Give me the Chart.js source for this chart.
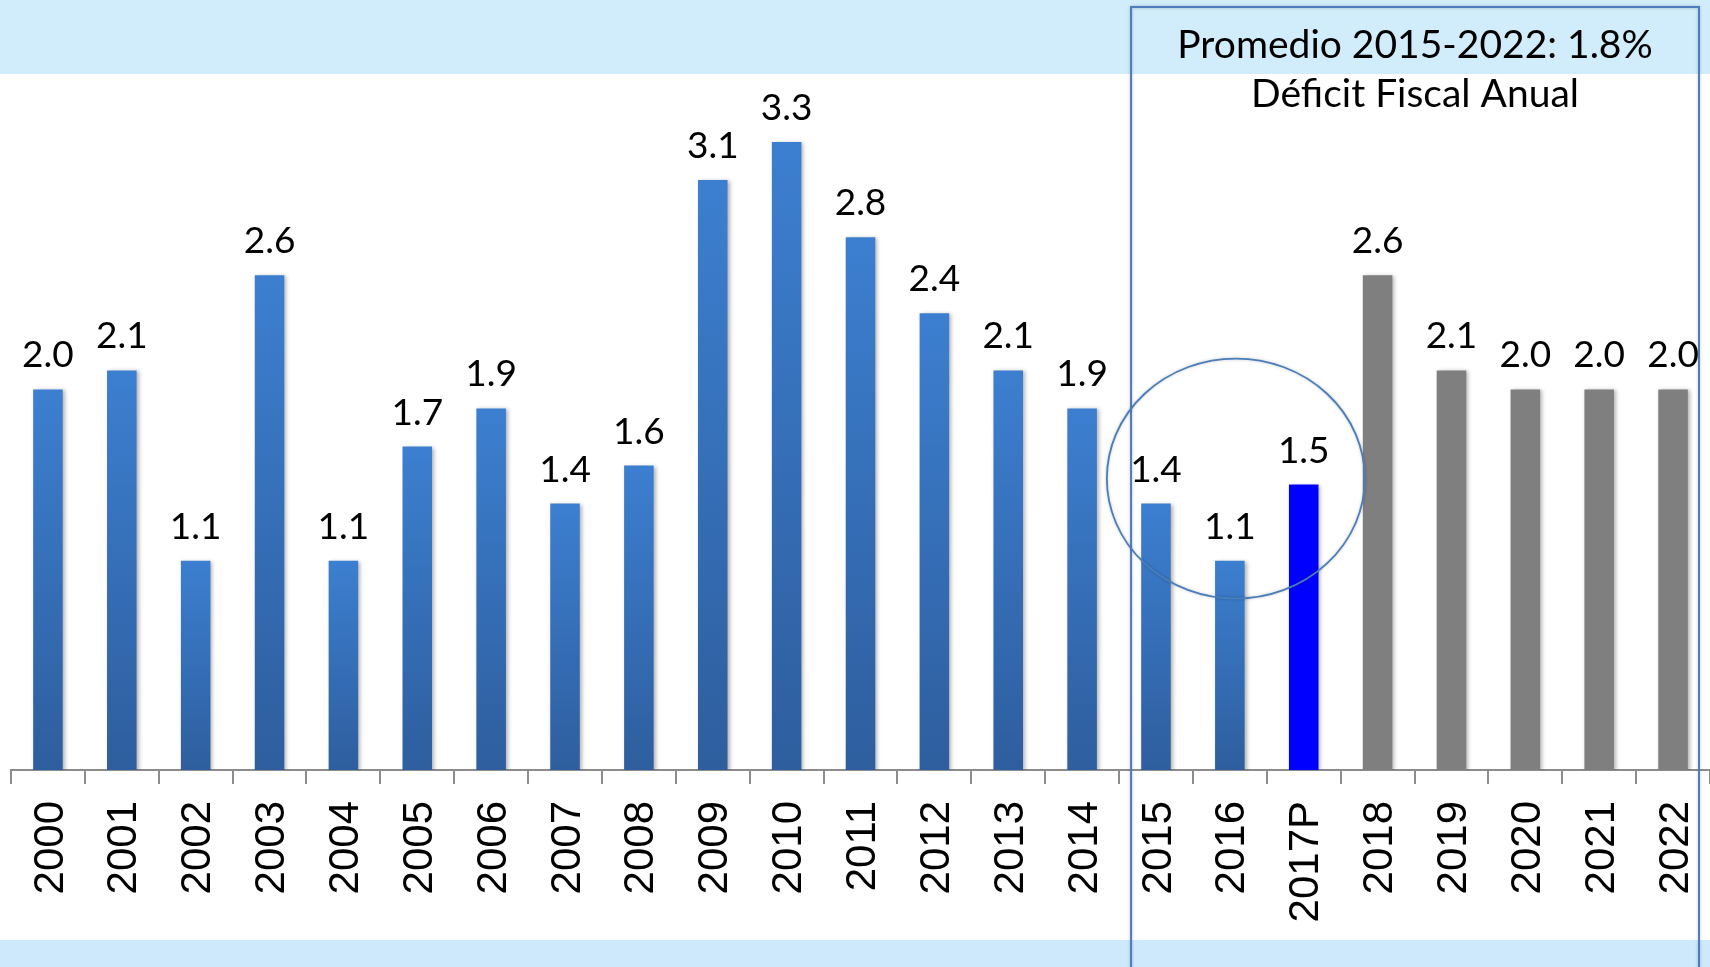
<!DOCTYPE html>
<html>
<head>
<meta charset="utf-8">
<title>Deficit Fiscal Anual</title>
<script src="https://cdn.jsdelivr.net/npm/chart.js@4.4.1/dist/chart.umd.min.js"></script>
<style>
  body { margin: 0; background: #fff; }
  .wrap { width: 1710px; height: 967px; position: relative; }
</style>
</head>
<body>
<div class="wrap"><canvas id="chart"></canvas></div>
<script>
    // data
    var years = ['2000', '2001', '2002', '2003', '2004', '2005', '2006', '2007', '2008', '2009', '2010', '2011',
      '2012', '2013', '2014', '2015', '2016', '2017P', '2018', '2019', '2020', '2021', '2022'];
    var deficit = [2.0, 2.1, 1.1, 2.6, 1.1, 1.7, 1.9, 1.4, 1.6, 3.1, 3.3, 2.8,
      2.4, 2.1, 1.9, 1.4, 1.1, 1.5, 2.6, 2.1, 2.0, 2.0, 2.0];
    var boxTitle = ['Promedio 2015-2022: 1.8%', 'Déficit Fiscal Anual'];

    var projIndex = years.indexOf('2017P');

    function barColor(ctx) {
      var i = ctx.dataIndex;
      if (i === projIndex) return '#0000ff';
      if (i > projIndex) return '#7f7f7f';
      var chart = ctx.chart;
      if (!chart.chartArea) return '#3a74c0';
      var y = chart.scales.y;
      var top = y.getPixelForValue(deficit[i]);
      var bottom = y.getPixelForValue(0);
      var g = chart.ctx.createLinearGradient(0, top, 0, bottom);
      g.addColorStop(0, '#3c7fd0');
      g.addColorStop(1, '#2e5e9e');
      return g;
    }

    // bands, box, circle and value labels
    var decor = {
      id: 'decor',
      beforeDraw: function (chart) {
        var c = chart.ctx;
        c.save();
        c.fillStyle = '#ffffff';
        c.fillRect(0, 0, chart.width, chart.height);
        c.fillStyle = '#d1ecfa';
        c.fillRect(0, 0, chart.width, 74);
        c.fillStyle = '#cde9fb';
        c.fillRect(0, 940, chart.width, chart.height - 940);
        c.restore();
      },
      beforeDatasetsDraw: function (chart) {
        var c = chart.ctx;
        c.save();
        c.shadowColor = 'rgba(0,0,0,0.3)';
        c.shadowBlur = 4;
        c.shadowOffsetX = 2;
        c.shadowOffsetY = 1;
      },
      afterDatasetsDraw: function (chart) {
        var c = chart.ctx;
        c.restore();
        var meta = chart.getDatasetMeta(0);
        c.save();
        c.fillStyle = '#000';
        c.font = '37px Lato';
        c.textAlign = 'center';
        c.textBaseline = 'alphabetic';
        meta.data.forEach(function (bar, i) {
          c.fillText(deficit[i].toFixed(1), bar.x, bar.y - 22);
        });
        c.restore();
      },
      afterDraw: function (chart) {
        var c = chart.ctx;
        var x = chart.scales.x;
        var y = chart.scales.y;
        c.save();

        // box around 2015-2022
        var left = x.getPixelForValue(14.5) + 12;
        var right = chart.width - 11;
        c.shadowColor = 'rgba(0,0,0,0.25)';
        c.shadowBlur = 3;
        c.strokeStyle = '#4f7cbf';
        c.lineWidth = 2;
        c.strokeRect(left, 7, right - left, chart.height + 10);

        // circle around 2015-2017P
        var cx = x.getPixelForValue(16) + 6;
        var cy = y.getPixelForValue(1.5) - 6;
        c.strokeStyle = '#4a7ebb';
        c.lineWidth = 1.8;
        c.beginPath();
        c.ellipse(cx, cy, 129, 120, 0, 0, Math.PI * 2);
        c.stroke();
        c.shadowColor = 'transparent';

        // box title
        var mid = (left + right) / 2;
        c.fillStyle = '#000';
        c.textAlign = 'center';
        c.font = '39px Lato';
        c.fillText(boxTitle[0], mid, 58);
        c.fillText(boxTitle[1], mid, 107);
        c.restore();
      }
    };

    var ctx = document.getElementById('chart').getContext('2d');
    var deficitChart = new Chart(ctx, {
      type: 'bar',
      data: {
        labels: years,
        datasets: [{
          label: 'Déficit',
          data: deficit,
          backgroundColor: barColor,
          borderWidth: 0,
          barPercentage: 0.4,
          categoryPercentage: 1
        }]
      },
      options: {
        responsive: true,
        maintainAspectRatio: false,
        animation: false,
        layout: { padding: { left: 11, right: 0, top: 104, bottom: 0 } },
        plugins: {
          legend: { display: false },
          tooltip: { enabled: false }
        },
        scales: {
          x: {
            offset: true,
            grid: {
              offset: true,
              drawOnChartArea: false,
              drawTicks: true,
              tickLength: 14,
              color: '#8c8c8c',
              lineWidth: 2
            },
            border: { color: '#8c8c8c', width: 2 },
            ticks: {
              color: '#000',
              font: { family: 'Liberation Sans', size: 42 },
              minRotation: 90,
              maxRotation: 90,
              padding: 17,
              labelOffset: 3,
              autoSkip: false
            },
            afterFit: function (s) {
              // axis fills the whole width like the original
              s.height = 197;
              s.paddingLeft = 0;
              s.paddingRight = 0;
            }
          },
          y: {
            display: false,
            min: 0,
            max: 3.5
          }
        }
      },
      plugins: [decor]
    });
</script>
</body>
</html>
